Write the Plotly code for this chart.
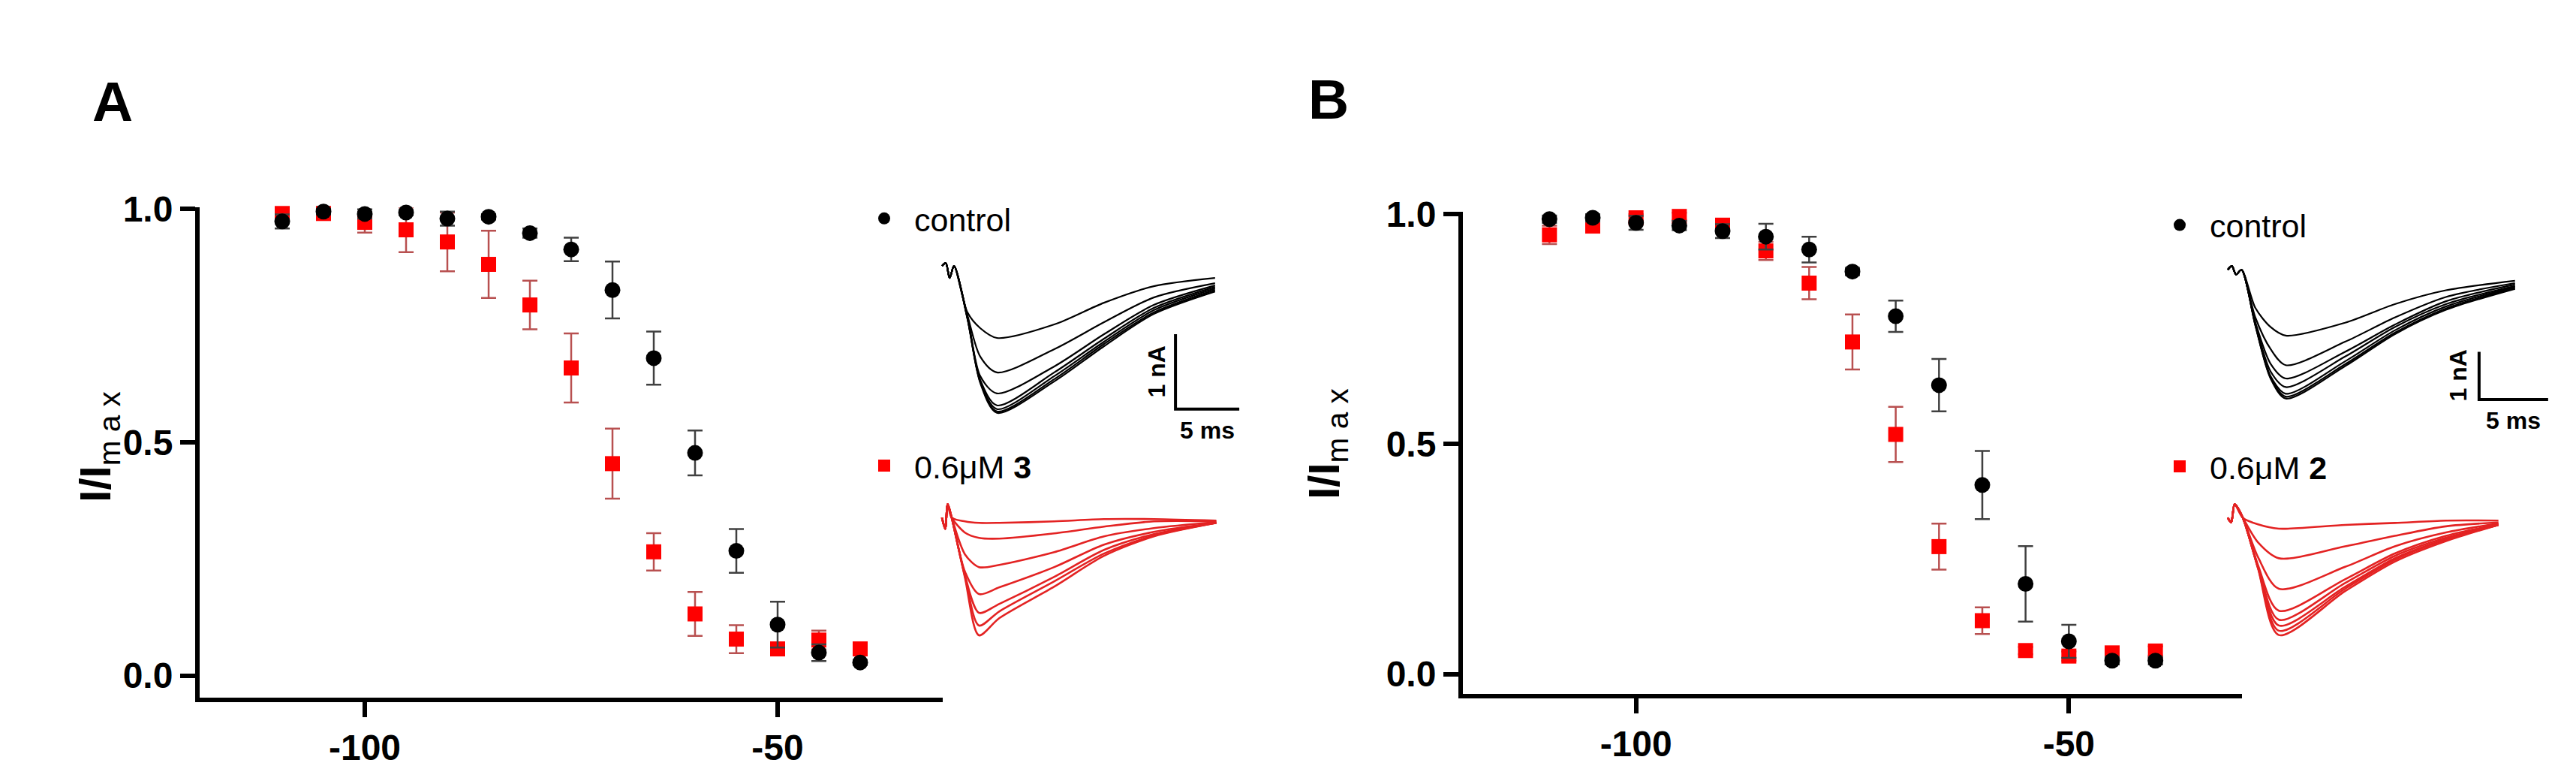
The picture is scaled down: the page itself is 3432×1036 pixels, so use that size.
import plotly.graph_objects as go

# steady-state inactivation: test potential (mV)
voltage = [-110, -105, -100, -95, -90, -85, -80, -75, -70, -65, -60, -55, -50, -45, -40]

# panel A: control vs 0.6 uM compound 3 (I/Imax, SEM)
a_ctrl = [0.973, 0.994, 0.989, 0.992, 0.979, 0.983, 0.948, 0.913, 0.826, 0.680, 0.477, 0.267, 0.109, 0.049, 0.028]
a_ctrl_err = [0.015, 0.006, 0.010, 0.005, 0.015, 0.006, 0.010, 0.025, 0.061, 0.057, 0.048, 0.047, 0.049, 0.018, 0.005]
a_drug = [0.990, 0.990, 0.971, 0.955, 0.929, 0.881, 0.794, 0.659, 0.454, 0.265, 0.132, 0.078, 0.057, 0.076, 0.057]
a_drug_err = [0.010, 0.008, 0.022, 0.048, 0.063, 0.072, 0.052, 0.074, 0.075, 0.040, 0.047, 0.030, 0.012, 0.020, 0.010]

# panel B: control vs 0.6 uM compound 2
b_ctrl = [0.989, 0.992, 0.981, 0.975, 0.963, 0.951, 0.923, 0.875, 0.778, 0.628, 0.411, 0.196, 0.071, 0.029, 0.029]
b_ctrl_err = [0.008, 0.008, 0.015, 0.010, 0.015, 0.028, 0.028, 0.008, 0.034, 0.057, 0.074, 0.082, 0.036, 0.008, 0.008]
b_drug = [0.955, 0.974, 0.992, 0.995, 0.976, 0.920, 0.850, 0.722, 0.521, 0.277, 0.116, 0.051, 0.039, 0.046, 0.050]
b_drug_err = [0.020, 0.010, 0.008, 0.008, 0.010, 0.020, 0.035, 0.060, 0.060, 0.050, 0.029, 0.008, 0.010, 0.008, 0.010]

x_ticks = [-100, -50]
x_ticktext = ["-100", "-50"]
y_ticks = [0, 0.5, 1.0]
y_ticktext = ["0.0", "0.5", "1.0"]

# example current traces (time in ms, current in nA)
t_a_ctrl = [0, 0.3, 0.6, 0.94, 2.0, 3.0, 4.3, 8.8, 12.7, 16.6, 21.4]
a_ctrl_traces = [
    [0, 0.04, -0.16, 0, -0.62, -0.83, -0.96, -0.78, -0.49, -0.27, -0.16],
    [0, 0.04, -0.16, 0, -0.66, -1.21, -1.42, -1.11, -0.75, -0.42, -0.23],
    [0, 0.04, -0.16, 0, -0.68, -1.47, -1.70, -1.34, -0.91, -0.52, -0.26],
    [0, 0.04, -0.16, 0, -0.69, -1.52, -1.86, -1.42, -0.97, -0.56, -0.28],
    [0, 0.04, -0.16, 0, -0.70, -1.54, -1.91, -1.47, -1.01, -0.59, -0.30],
    [0, 0.04, -0.16, 0, -0.70, -1.55, -1.94, -1.51, -1.04, -0.62, -0.32],
    [0, 0.04, -0.16, 0, -0.71, -1.56, -1.96, -1.54, -1.07, -0.64, -0.34],
]
t_a_drug = [0, 0.25, 0.45, 0.76, 1.8, 2.9, 4.5, 8.8, 12.7, 16.6, 21.5]
a_drug_traces = [
    [0, -0.15, 0.18, 0, -0.05, -0.07, -0.07, -0.05, -0.02, -0.02, -0.04],
    [0, -0.15, 0.18, 0, -0.20, -0.27, -0.28, -0.21, -0.12, -0.05, -0.05],
    [0, -0.15, 0.18, 0, -0.49, -0.66, -0.63, -0.46, -0.25, -0.14, -0.06],
    [0, -0.15, 0.18, 0, -0.72, -1.02, -0.93, -0.66, -0.36, -0.19, -0.07],
    [0, -0.15, 0.18, 0, -0.77, -1.27, -1.15, -0.79, -0.43, -0.22, -0.07],
    [0, -0.15, 0.18, 0, -0.78, -1.44, -1.25, -0.85, -0.48, -0.24, -0.07],
    [0, -0.15, 0.18, 0, -0.80, -1.57, -1.34, -0.92, -0.51, -0.25, -0.07],
]
t_b_ctrl = [0, 0.3, 0.6, 1.0, 2.0, 3.1, 4.2, 8.5, 12.1, 15.8, 20.8]
b_ctrl_traces = [
    [0, 0.08, -0.10, 0, -0.80, -1.20, -1.38, -1.11, -0.72, -0.43, -0.23],
    [0, 0.08, -0.10, 0, -1.00, -1.66, -2.00, -1.51, -1.00, -0.57, -0.28],
    [0, 0.08, -0.10, 0, -1.10, -1.97, -2.28, -1.72, -1.15, -0.66, -0.31],
    [0, 0.08, -0.10, 0, -1.13, -2.13, -2.46, -1.82, -1.20, -0.72, -0.34],
    [0, 0.08, -0.10, 0, -1.15, -2.23, -2.60, -1.92, -1.27, -0.77, -0.36],
    [0, 0.08, -0.10, 0, -1.16, -2.26, -2.66, -1.98, -1.32, -0.81, -0.38],
    [0, 0.08, -0.10, 0, -1.17, -2.28, -2.70, -2.02, -1.35, -0.84, -0.40],
]
t_b_drug = [0, 0.25, 0.5, 1.09, 2.2, 3.7, 8.5, 12.1, 15.8, 19.6]
b_drug_traces = [
    [0, -0.10, 0.28, 0, -0.14, -0.23, -0.15, -0.11, -0.06, -0.06],
    [0, -0.10, 0.28, 0, -0.52, -0.85, -0.60, -0.38, -0.18, -0.10],
    [0, -0.10, 0.28, 0, -0.83, -1.49, -1.03, -0.60, -0.31, -0.12],
    [0, -0.10, 0.28, 0, -1.00, -1.95, -1.29, -0.75, -0.38, -0.14],
    [0, -0.10, 0.28, 0, -1.03, -2.14, -1.37, -0.80, -0.42, -0.14],
    [0, -0.10, 0.28, 0, -1.05, -2.26, -1.45, -0.85, -0.45, -0.15],
    [0, -0.10, 0.28, 0, -1.06, -2.37, -1.49, -0.88, -0.46, -0.15],
    [0, -0.10, 0.28, 0, -1.07, -2.46, -1.54, -0.92, -0.49, -0.15],
]

# scale bars: 5 ms, 1 nA
bar_ms = 5
bar_na = 1

W, H = 3432, 1036
FONT = "Liberation Sans"
NARROW = "Liberation Sans Narrow, Liberation Sans"
RED = "#ff0000"
TRACE_RED = "#e32222"


def fx(p):
    return p / W


def fy(p):
    return 1 - p / H


fig = go.Figure()


def add_panel(ctrl, ctrl_err, drug, drug_err, drug_label, xa, ya, leg_c, leg_d):
    fig.add_trace(go.Scatter(
        x=voltage, y=drug, mode="markers", name=drug_label, xaxis=xa, yaxis=ya,
        legend=leg_d, cliponaxis=False,
        marker=dict(symbol="square", size=20, color=RED),
        error_y=dict(type="data", array=drug_err, color="#b85050", thickness=2.5, width=10)))
    fig.add_trace(go.Scatter(
        x=voltage, y=ctrl, mode="markers", name="control", xaxis=xa, yaxis=ya,
        legend=leg_c, cliponaxis=False,
        marker=dict(symbol="circle", size=21, color="black"),
        error_y=dict(type="data", array=ctrl_err, color="#404040", thickness=2.5, width=10)))


add_panel(a_ctrl, a_ctrl_err, a_drug, a_drug_err, "0.6μM <b>3</b>", "x", "y", "legend", "legend2")
add_panel(b_ctrl, b_ctrl_err, b_drug, b_drug_err, "0.6μM <b>2</b>", "x2", "y2", "legend3", "legend4")


def add_traces(t, traces, color, width, xa, ya):
    for tr in traces:
        fig.add_trace(go.Scatter(
            x=t, y=tr, mode="lines", xaxis=xa, yaxis=ya, showlegend=False,
            line=dict(color=color, width=width, shape="spline", smoothing=0.8)))


add_traces(t_a_ctrl, a_ctrl_traces, "black", 2.2, "x3", "y3")
add_traces(t_a_drug, a_drug_traces, TRACE_RED, 2.6, "x4", "y4")
add_traces(t_b_ctrl, b_ctrl_traces, "black", 2.2, "x5", "y5")
add_traces(t_b_drug, b_drug_traces, TRACE_RED, 2.6, "x6", "y6")

# scale bar corners (ms, nA) in the control inset axes
bar_a = (18.3, -1.91)
bar_b = (18.2, -2.72)
for (x0, y0), xa, ya in [(bar_a, "x3", "y3"), (bar_b, "x5", "y5")]:
    fig.add_trace(go.Scatter(
        x=[x0, x0, x0 + bar_ms], y=[y0 + bar_na, y0, y0], mode="lines",
        xaxis=xa, yaxis=ya, showlegend=False,
        line=dict(color="black", width=4)))
    fig.add_annotation(x=x0 - 1.5, y=y0 + bar_na / 2, xref=xa, yref=ya,
                       text="<b>1 nA</b>", textangle=-90, showarrow=False,
                       font=dict(family=FONT, size=32, color="black"))
    fig.add_annotation(x=x0 + bar_ms / 2, y=y0, xref=xa, yref=ya, yshift=-28,
                       text="<b>5 ms</b>", showarrow=False,
                       font=dict(family=FONT, size=32, color="black"))

tick_font = dict(family=FONT, size=48, color="black", weight="bold")
x_common = dict(range=[-120, -30], tickvals=x_ticks, ticktext=x_ticktext, showline=True,
                linewidth=6, linecolor="black", ticks="outside", ticklen=20, tickwidth=6,
                tickcolor="black", tickfont=tick_font, showgrid=False, zeroline=False)
y_common = dict(tickvals=y_ticks, ticktext=y_ticktext, showline=True,
                linewidth=6, linecolor="black", ticks="outside", ticklen=20, tickwidth=6,
                tickcolor="black", tickfont=tick_font, showgrid=False, zeroline=False)
hidden = dict(visible=False, showgrid=False, zeroline=False)

fig.update_layout(
    width=W, height=H, margin=dict(l=0, r=0, t=0, b=0),
    paper_bgcolor="white", plot_bgcolor="white",
    xaxis=dict(domain=[fx(258), fx(1248)], anchor="y", **x_common),
    yaxis=dict(domain=[fy(918), fy(250)], range=[-0.047, 1.003], anchor="x", **y_common),
    xaxis2=dict(domain=[fx(1941), fx(2979)], anchor="y2", **x_common),
    yaxis2=dict(domain=[fy(913), fy(256)], range=[-0.043, 1.005], anchor="x2", **y_common),
    xaxis3=dict(domain=[fx(1238.5), fx(1672)], range=[-0.5, 25], anchor="y3", **hidden),
    yaxis3=dict(domain=[fy(575), fy(289)], range=[-2.4, 0.4], anchor="x3", **hidden),
    xaxis4=dict(domain=[fx(1238.5), fx(1672)], range=[-0.5, 25], anchor="y4", **hidden),
    yaxis4=dict(domain=[fy(867), fy(632)], range=[-1.9, 0.4], anchor="x4", **hidden),
    xaxis5=dict(domain=[fx(2950.8), fx(3420)], range=[-0.5, 25], anchor="y5", **hidden),
    yaxis5=dict(domain=[fy(556), fy(302.5)], range=[-3.4, 0.5], anchor="x5", **hidden),
    xaxis6=dict(domain=[fx(2950.8), fx(3420)], range=[-0.5, 25], anchor="y6", **hidden),
    yaxis6=dict(domain=[fy(848.5), fy(640.5)], range=[-2.7, 0.5], anchor="x6", **hidden),
)

leg_font = dict(family=FONT, size=43, color="black")
for name, lx, ly in [("legend", 1130, 265), ("legend2", 1130, 602),
                     ("legend3", 2856, 274), ("legend4", 2856, 603)]:
    fig.update_layout({name: dict(x=fx(lx), y=fy(ly), xanchor="left", yanchor="middle",
                                  font=leg_font, bgcolor="rgba(0,0,0,0)",
                                  itemsizing="trace", itemwidth=70)})

# panel letters and y titles
for txt, x, y in [("A", 113, 60), ("B", 1762, 57)]:
    fig.add_annotation(x=fx(x), y=fy(y), xref="paper", yref="paper", text="<b>%s</b>" % txt,
                       showarrow=False, font=dict(family=FONT, size=75, color="black"))
for x, y in [(84, 576), (1760, 572)]:
    fig.add_annotation(x=fx(x), y=fy(y), xref="paper", yref="paper",
                       text="<b>I/I</b><sub>m a x</sub>", textangle=-90, showarrow=False,
                       font=dict(family=NARROW, size=58, color="black"))

fig.write_html("out.html")
